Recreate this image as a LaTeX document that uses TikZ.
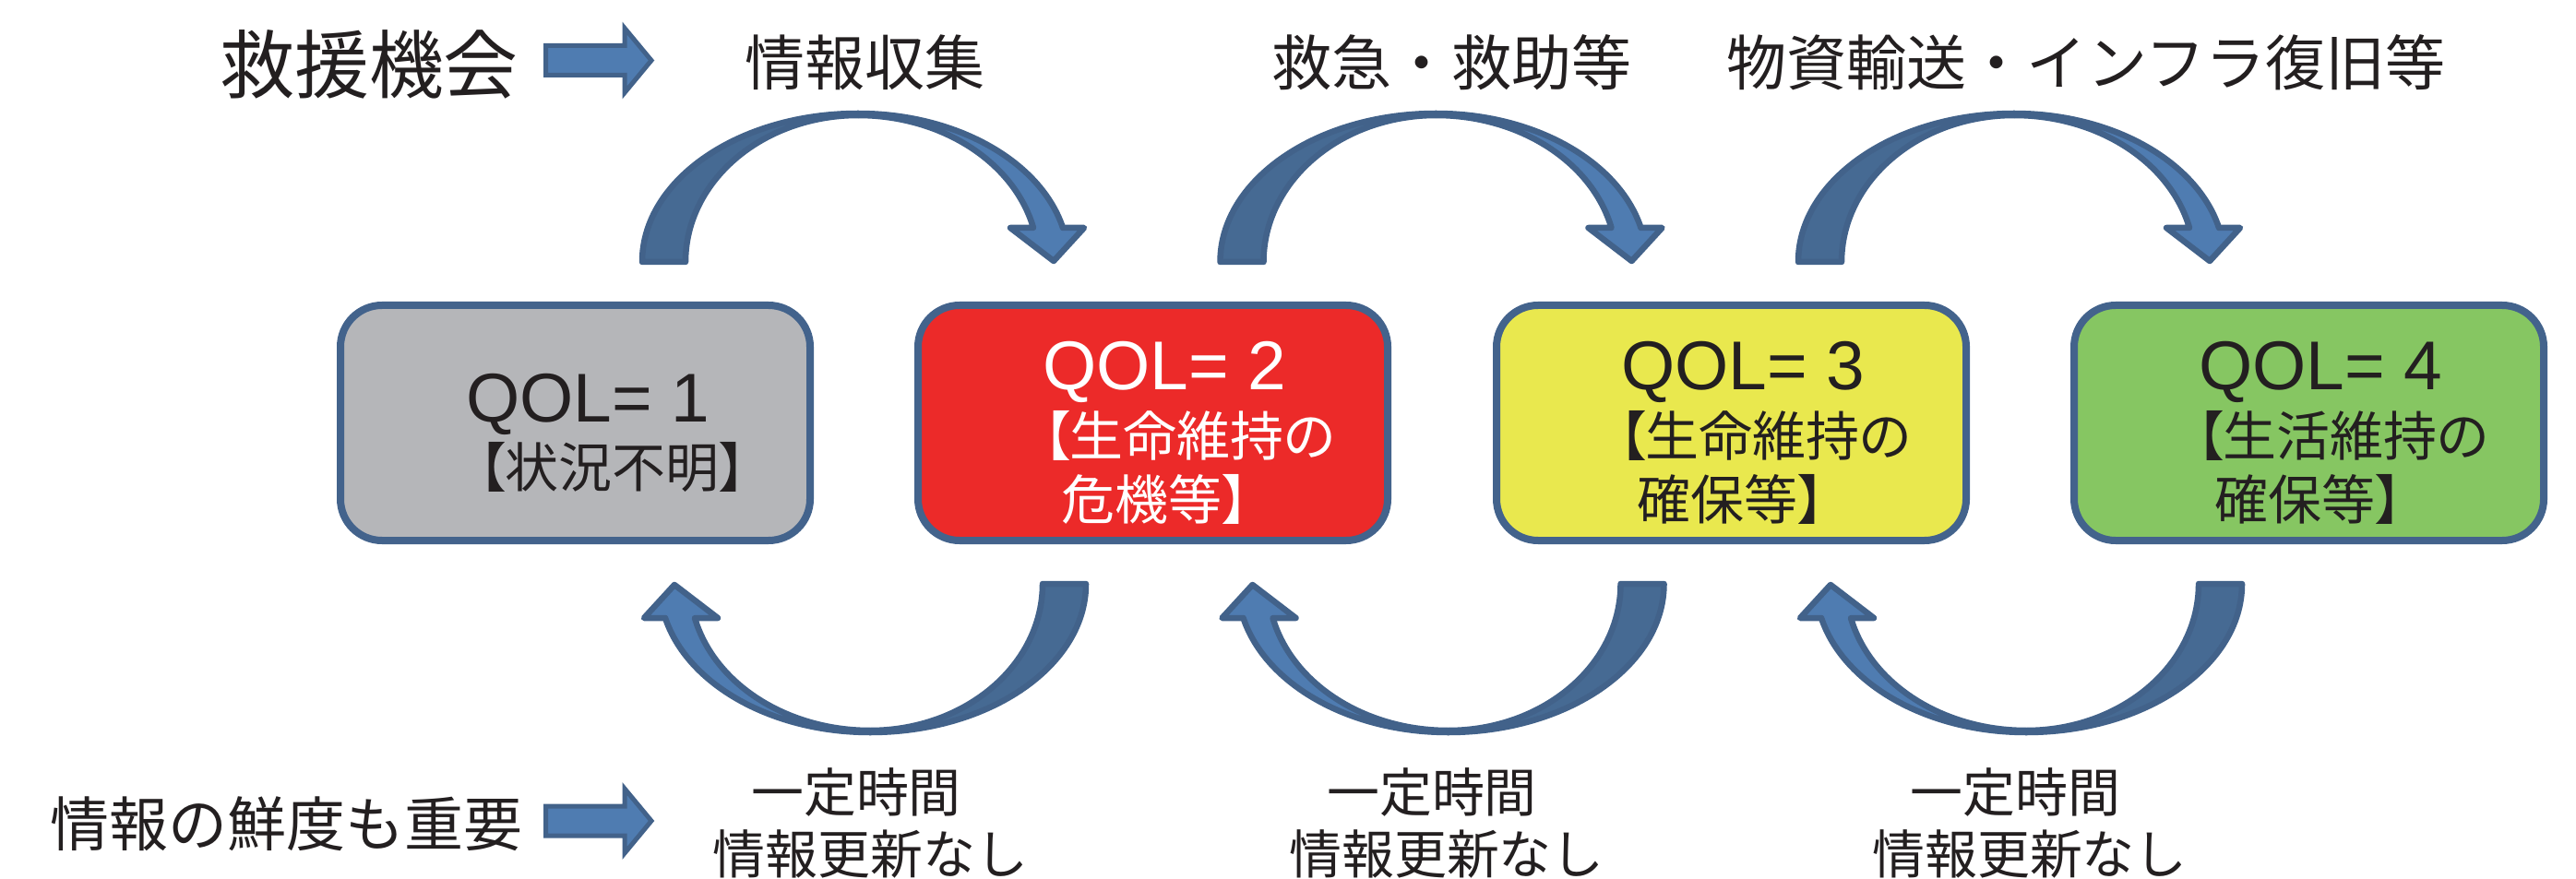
\documentclass[tikz,border=0pt]{standalone}
\usepackage{fontspec}
\usetikzlibrary{calc}
\newfontfamily\jp{Noto Sans CJK JP}
\newfontfamily\jpp[RawFeature=+palt]{Noto Sans CJK JP}
\newfontfamily\lat{Liberation Sans}
\definecolor{boxline}{RGB}{67,99,140}
\definecolor{arrline}{RGB}{66,98,138}
\definecolor{arrdark}{RGB}{70,106,147}
\definecolor{arrlight}{RGB}{79,124,177}
\definecolor{qgray}{RGB}{181,182,185}
\definecolor{qred}{RGB}{236,42,41}
\definecolor{qyellow}{RGB}{233,232,78}
\definecolor{qgreen}{RGB}{134,198,98}
\definecolor{txt}{RGB}{35,31,32}
\tikzset{
  qbox/.style={draw=boxline, line width=0.08cm, rounded corners=0.45cm,
    minimum width=5.09cm, minimum height=2.55cm, inner sep=0pt},
  qoltext/.style={anchor=base west, inner sep=0pt, font=\lat\fontsize{21.3}{24}\selectfont},
  jline/.style={anchor=west, inner sep=0pt, font=\jpp\fontsize{16.5}{20}\selectfont},
  biglabel/.style={inner sep=0pt, text=txt, font=\jp\fontsize{23}{26}\selectfont},
  toplabel/.style={inner sep=0pt, text=txt, font=\jp\fontsize{18.5}{22}\selectfont},
  freshlabel/.style={inner sep=0pt, text=txt, font=\jp\fontsize{18.2}{22}\selectfont},
  botlabel/.style={inner sep=0pt, text=txt, font=\jp\fontsize{16.2}{20}\selectfont},
  blockarrow/.style={draw=arrline, fill=arrlight, line width=0.05cm, line join=miter},
  arcline/.style={draw=arrline, line width=0.065cm, line join=round},
  qarc/.pic={
    \path[arcline, fill=arrlight] (-0.065,3.355)
      arc[start angle=90, end angle=13.29, x radius=2.281, y radius=1.61]
      -- (2.385,2.115) -- (2.055,1.755) -- (1.585,2.115) -- (1.835,2.115)
      arc[start angle=13.46, end angle=90, x radius=1.954, y radius=1.59] -- cycle;
    \path[arcline, fill=arrdark] (-2.405,1.745)
      arc[start angle=180, end angle=90, x radius=2.34, y radius=1.61]
      -- (-0.065,3.335)
      arc[start angle=90, end angle=180, x radius=1.87, y radius=1.59] -- cycle;
  }
}
\begin{document}
\begin{tikzpicture}
\fill[white] (0,0) rectangle (27.92,-9.53);
\path[use as bounding box] (0,0) rectangle (27.92,-9.53);

% boxes
\node[qbox, fill=qgray]   (b1) at (6.235,-4.585) {};
\node[qbox, fill=qred]    (b2) at (12.495,-4.585) {};
\node[qbox, fill=qyellow] (b3) at (18.765,-4.585) {};
\node[qbox, fill=qgreen]  (b4) at (25.025,-4.585) {};

% box texts
\node[qoltext, text=txt] (q1) at ($(b1.center)+(-1.19,0.015)$) {QOL= 1};
\node[jline, text=txt] (s1) at ($(b1.center)+(-1.055,-0.48)$) {【状況不明】};

\node[qoltext, text=white] (q2) at ($(b2.center)+(-1.20,0.355)$) {QOL= 2};
\node[jline, text=white] (s2a) at ($(b2.center)+(-1.195,-0.135)$) {【生命維持の};
\node[jline, text=white] (s2b) at ($(b2.center)+(-0.995,-0.83)$) {危機等】};

\node[qoltext, text=txt] (q3) at ($(b3.center)+(-1.20,0.355)$) {QOL= 3};
\node[jline, text=txt] (s3a) at ($(b3.center)+(-1.225,-0.135)$) {【生命維持の};
\node[jline, text=txt] (s3b) at ($(b3.center)+(-1.025,-0.83)$) {確保等】};

\node[qoltext, text=txt] (q4) at ($(b4.center)+(-1.20,0.355)$) {QOL= 4};
\node[jline, text=txt] (s4a) at ($(b4.center)+(-1.225,-0.135)$) {【生活維持の};
\node[jline, text=txt] (s4b) at ($(b4.center)+(-1.025,-0.83)$) {確保等】};

% curved arrows
\pic at ($(b1.center)!0.5!(b2.center)$) {qarc};
\pic at ($(b2.center)!0.5!(b3.center)$) {qarc};
\pic at ($(b3.center)!0.5!(b4.center)$) {qarc};
\pic[rotate=180] at ($(b1.center)!0.5!(b2.center)$) {qarc};
\pic[rotate=180] at ($(b2.center)!0.5!(b3.center)$) {qarc};
\pic[rotate=180] at ($(b3.center)!0.5!(b4.center)$) {qarc};

% top labels
\node[biglabel] (kyuen) at (4.00,-0.70) {救援機会};
\node[toplabel] (t1) at (9.375,-0.68) {情報収集};
\node[toplabel] (t2) at (15.735,-0.68) {救急・救助等};
\node[toplabel] (t3) at (22.61,-0.68) {物資輸送・インフラ復旧等};

% bottom labels
\node[freshlabel] (fresh) at (3.105,-8.93) {情報の鮮度も重要};
\node[botlabel] (u1a) at (9.28,-8.59) {一定時間};
\node[botlabel] (u1b) at (9.435,-9.26) {情報更新なし};
\node[botlabel] (u2a) at (15.52,-8.59) {一定時間};
\node[botlabel] (u2b) at (15.68,-9.26) {情報更新なし};
\node[botlabel] (u3a) at (21.845,-8.59) {一定時間};
\node[botlabel] (u3b) at (22.00,-9.26) {情報更新なし};

% block arrows
\path[blockarrow] (5.915,-0.495) -- (6.77,-0.495) -- (6.77,-0.305) -- (7.06,-0.655)
  -- (6.77,-1.005) -- (6.77,-0.815) -- (5.915,-0.815) -- cycle;
\begin{scope}[yshift=-8.245cm]
\path[blockarrow] (5.915,-0.495) -- (6.77,-0.495) -- (6.77,-0.305) -- (7.06,-0.655)
  -- (6.77,-1.005) -- (6.77,-0.815) -- (5.915,-0.815) -- cycle;
\end{scope}
\end{tikzpicture}
\end{document}
